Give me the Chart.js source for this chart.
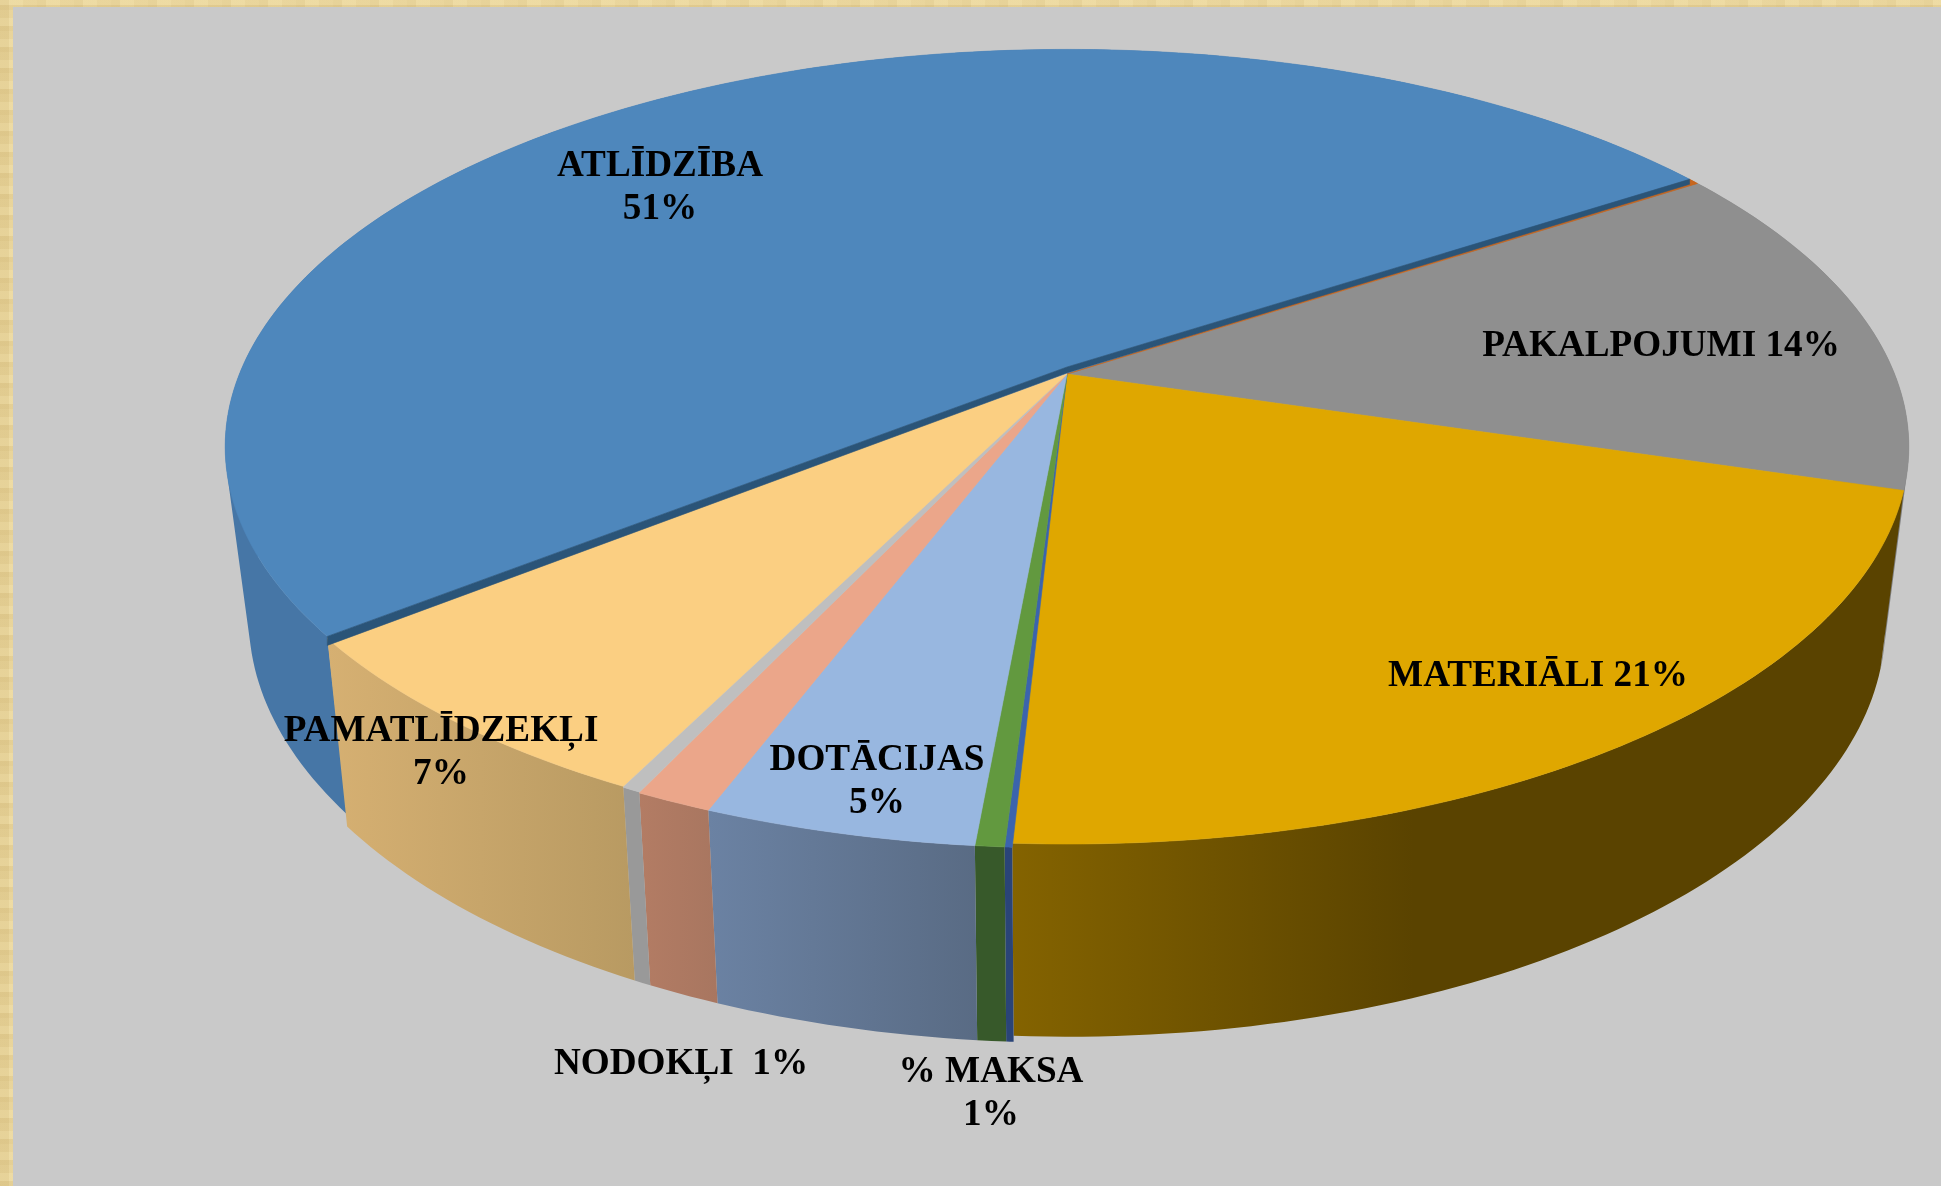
<!DOCTYPE html>
<html lang="lv">
<head>
<meta charset="utf-8">
<title>3D pie</title>
<script src="https://cdn.jsdelivr.net/npm/chart.js@4"></script>
<style>
html,body{margin:0;padding:0;width:1941px;height:1186px;overflow:hidden;
background-color:#e9d59c;
background-image:
 repeating-linear-gradient(0deg,rgba(190,160,90,.16) 0 5px,rgba(255,240,190,.12) 5px 13px,rgba(190,160,90,.07) 13px 21px),
 repeating-linear-gradient(90deg,rgba(190,160,90,.12) 0 9px,rgba(255,240,190,.12) 9px 23px,rgba(190,160,90,.06) 23px 37px);}
canvas{position:absolute;left:0;top:0}
</style>
</head>
<body>
<canvas id="c" width="1941" height="1186"></canvas>
<script>
// Data
const categories = ["ATLĪDZĪBA","","PAKALPOJUMI","MATERIĀLI","","% MAKSA","DOTĀCIJAS","","NODOKĻI","PAMATLĪDZEKĻI"];
const values = [50.95,0.25,13.83,21.22,0.12,0.47,4.4,1.25,0.3,7.21];
const percentLabels = ["51%","","14%","21%","","1%","5%","","1%","7%"];

// Styles
const topColors = ["#4e87bc","#c8671e","#8f8f8f","#dfa700","#3b64ad","#62993f","#98b7e0","#eba68a","#bfbfbf","#fbcf82"];
const wallLeft  = ["#4676a6","#a0521a","#7c7c7c","#846300","#2a4478","#37592a","#6b82a3","#b37c64","#999999","#d6b072"];
const wallRight = ["#4676a6","#a0521a","#7c7c7c","#5a4300","#2a4478","#37592a","#596b84","#a87660","#999999","#b89a62"];
const wallLift  = [12,5,5,6,0,0,0,0,0,0];
const rimDrop   = [0,0,0,0,4,4,4,4,3,2];

// Label layout: centre x, middle y of the first line, one or two lines, separator
const labelLayout = [
 {x:660,y:166,two:true},null,
 {x:1661,y:346,two:false,sep:" "},
 {x:1538,y:676,two:false,sep:" "},null,
 {x:991,y:1072,two:true},
 {x:877,y:760,two:true},null,
 {x:681,y:1064,two:false,sep:"  "},
 {x:441,y:731,two:true}
];

// Projection of the pie's disc (perspective view)
const topFace = {cx:1067,cy:374,a:827.6,b:384,m:0.183};
const botFace = {cx:1067,cy:554,a:804,b:398,m:0.1856};
function proj(f,t){
  const u=Math.cos(t),v=Math.sin(t),w=1-f.m*v;
  return [f.cx+f.a*u/w,f.cy+f.b*v/w];
}
function arcPts(f,s,e,lift){
  const n=Math.max(2,Math.ceil((e-s)/(Math.PI/180)));
  const p=[];
  for(let i=0;i<=n;i++){const q=proj(f,s+(e-s)*i/n);p.push([q[0],q[1]-(lift||0)]);}
  return p;
}
function fillPoly(ctx,p,fill){
  ctx.beginPath();
  p.forEach((q,i)=>i?ctx.lineTo(q[0],q[1]):ctx.moveTo(q[0],q[1]));
  ctx.closePath();
  ctx.fillStyle=fill;ctx.fill();
  ctx.strokeStyle=fill;ctx.lineWidth=0.6;ctx.stroke();
}
// Union of quads in one path, all wound the same way, so no seams show
function fillQuads(ctx,t,b,fill){
  ctx.beginPath();
  for(let k=0;k<t.length-1;k++){
    let q=[t[k],t[k+1],b[k+1],b[k]];
    let area=0;
    for(let j=0;j<4;j++){const A=q[j],B=q[(j+1)%4];area+=A[0]*B[1]-B[0]*A[1];}
    if(area<0)q=q.reverse();
    q.forEach((P,j)=>j?ctx.lineTo(P[0],P[1]):ctx.moveTo(P[0],P[1]));
    ctx.closePath();
  }
  ctx.fillStyle=fill;ctx.fill('nonzero');
}

const pie3d = {
  id:'pie3d',
  beforeDraw(chart){
    const ctx=chart.ctx;
    ctx.clearRect(0,0,1941,1186);
    ctx.fillStyle="#c9c9c9";
    ctx.fillRect(13,7,1941-13,1186-7);
  },
  beforeDatasetDraw(){return false;},
  afterDatasetsDraw(chart){
    const ctx=chart.ctx,arcs=chart.getDatasetMeta(0).data;
    const ang=arcs.map(a=>{const p=a.getProps(['startAngle','endAngle'],true);return [p.startAngle,p.endAngle];});
    // side walls
    arcs.forEach((a,i)=>{
      const [s,e]=ang[i];
      const t=arcPts(topFace,s,e,-rimDrop[i]),b=arcPts(botFace,s,e,wallLift[i]);
      let grad;
      if(wallLeft[i]===wallRight[i]) grad=wallLeft[i];
      else{
        const xs=t.concat(b).map(q=>q[0]);
        const x0=Math.min(...xs),x1=Math.max(...xs);
        const gg=ctx.createLinearGradient(x0,0,i===3?x0+(x1-x0)*0.45:x1,0);
        gg.addColorStop(0,wallLeft[i]);gg.addColorStop(1,wallRight[i]);
        grad=gg;
      }
      fillQuads(ctx,t,b,grad);
    });
    // top faces
    const order=[2,3,4,5,6,7,8,9,1,0];
    order.forEach(i=>{
      const [s,e]=ang[i];
      const apex=i===0?[topFace.cx,topFace.cy-7]:[topFace.cx,topFace.cy];
      fillPoly(ctx,[apex].concat(arcPts(topFace,s,e,-rimDrop[i])),topColors[i]);
    });
    // cut face along the straight edges of the first slice
    const [s0,e0]=ang[0];
    const p1=proj(topFace,s0),p2=proj(topFace,e0);
    fillPoly(ctx,[p1,[topFace.cx,topFace.cy-7],p2,[p2[0],p2[1]+5],[topFace.cx,topFace.cy-1],[p1[0],p1[1]+9]],"#2a5478");
    // labels
    ctx.fillStyle="#000";
    ctx.font="bold 37.2px 'Liberation Serif'";
    ctx.textAlign="center";ctx.textBaseline="middle";
    categories.forEach((c,i)=>{
      const l=labelLayout[i];
      if(!l)return;
      if(l.two){
        ctx.fillText(c,l.x,l.y);
        ctx.fillText(percentLabels[i],l.x,l.y+43);
      }else{
        ctx.fillText(c+l.sep+percentLabels[i],l.x,l.y);
      }
    });
  }
};

new Chart(document.getElementById('c'),{
  type:'pie',
  data:{labels:categories,datasets:[{data:values,backgroundColor:topColors,borderWidth:0}]},
  options:{
    responsive:false,animation:false,rotation:232.6,
    events:[],
    plugins:{legend:{display:false},tooltip:{enabled:false},title:{display:false}}
  },
  plugins:[pie3d]
});
</script>
</body>
</html>
